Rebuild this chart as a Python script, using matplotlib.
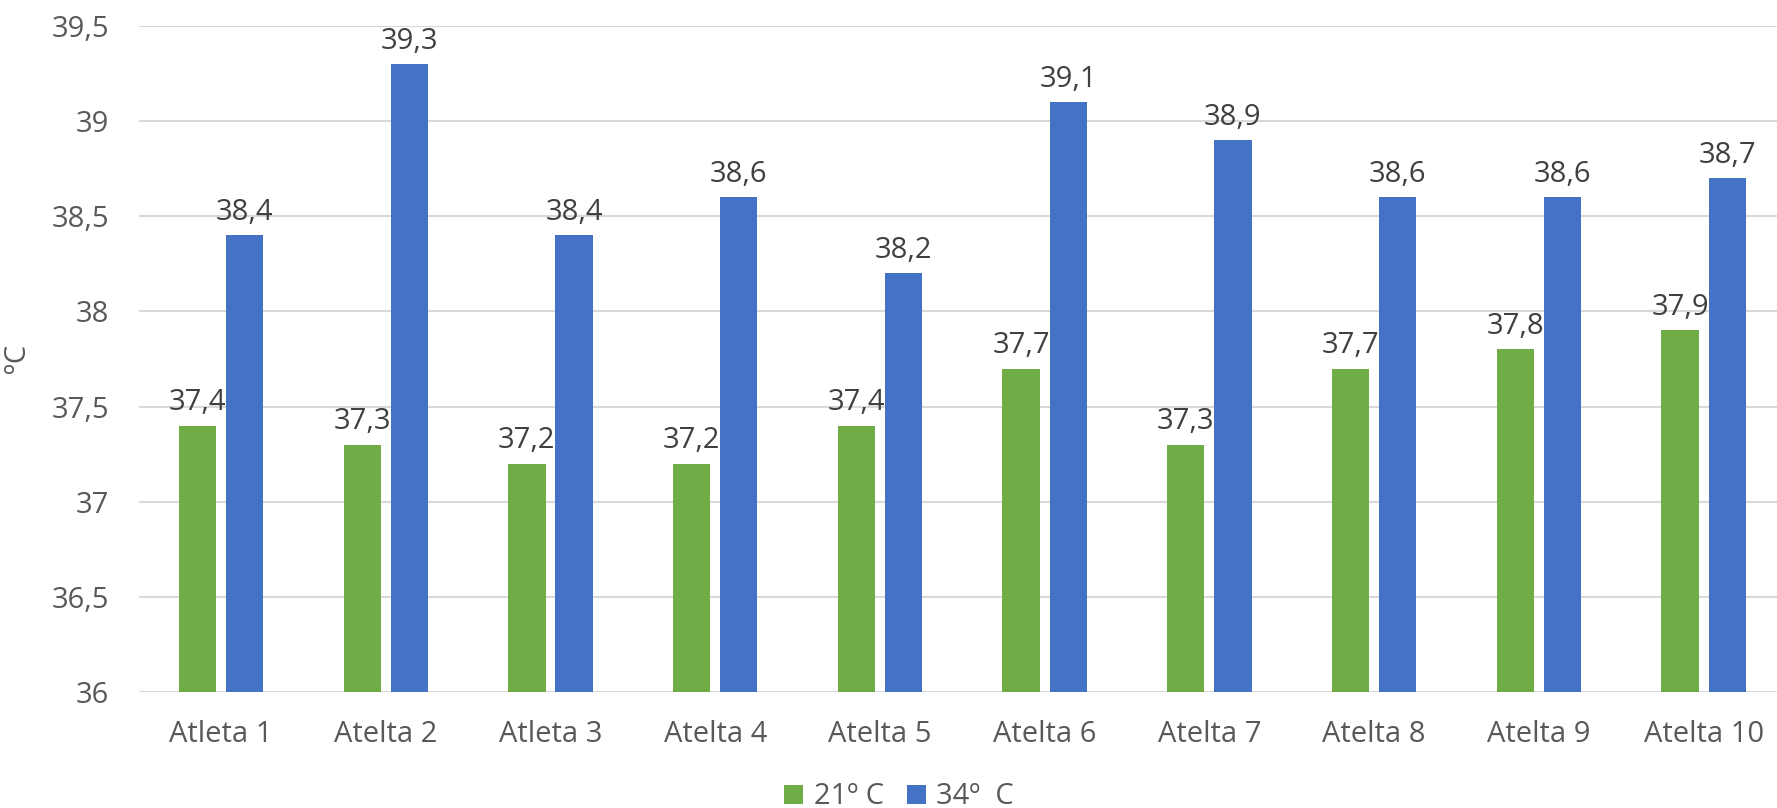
import matplotlib
matplotlib.use("Agg")
import matplotlib.pyplot as plt
import numpy as np

categories = ["Atleta 1", "Atelta 2", "Atleta 3", "Atelta 4", "Atelta 5",
              "Atelta 6", "Atelta 7", "Atelta 8", "Atelta 9", "Atelta 10"]
series_21 = [37.4, 37.3, 37.2, 37.2, 37.4, 37.7, 37.3, 37.7, 37.8, 37.9]
series_34 = [38.4, 39.3, 38.4, 38.6, 38.2, 39.1, 38.9, 38.6, 38.6, 38.7]
series_names = ["21º C", "34º  C"]
yticks = [36, 36.5, 37, 37.5, 38, 38.5, 39, 39.5]

plt.rcParams['font.family'] = ['Open Sans', 'DejaVu Sans']

W, H = 1777, 808
fig = plt.figure(figsize=(W / 100, H / 100), dpi=100)
left, right, top, bottom = 138.6, 1777, 26, 692
ax = fig.add_axes([left / W, 1 - bottom / H, (right - left) / W, (bottom - top) / H])

x = np.arange(len(categories))
bw = 0.226
off = 0.06 / 2 + bw / 2
green = "#70AD47"
blue = "#4472C4"
b1 = ax.bar(x - off, np.array(series_21) - 36, bw, bottom=36, color=green, label=series_names[0], zorder=3)
b2 = ax.bar(x + off, np.array(series_34) - 36, bw, bottom=36, color=blue, label=series_names[1], zorder=3)

for bars, vals in ((b1, series_21), (b2, series_34)):
    for rect, v in zip(bars, vals):
        ax.annotate(f"{v:.1f}".replace(".", ","), (rect.get_x() + rect.get_width() / 2, v),
                    xytext=(0, 6), textcoords="offset points", ha="center", va="bottom",
                    fontsize=21, color="#404040")

ax.set_ylim(36, 39.5)
ax.set_xlim(-0.5, 9.5 - (1786 - 1777) / 164.8)
ax.set_yticks(yticks)
ax.set_yticklabels([f"{t:g}".replace(".", ",") for t in yticks])
ax.set_xticks(x)
ax.set_xticklabels(categories)
ax.tick_params(axis="both", length=0, labelsize=21, colors="#595959")
ax.tick_params(axis="y", pad=21)
ax.tick_params(axis="x", pad=20)
ax.grid(axis="y", color="#D9D9D9", linewidth=1.5, zorder=0)
for s in ax.spines.values():
    s.set_visible(False)

fig.text(18 / W, 1 - 358 / H, "ºC", rotation=90, ha="center", va="center", fontsize=21, color="#595959")

fig.legend(handles=[b1, b2], labels=series_names, loc="center", bbox_to_anchor=(899 / W, 1 - 797 / H),
           ncol=2, frameon=False, fontsize=21, labelcolor="#595959", handlelength=0.65, handleheight=0.65,
           handletextpad=0.35, columnspacing=0.8)

fig.savefig("out.png", dpi=100)
